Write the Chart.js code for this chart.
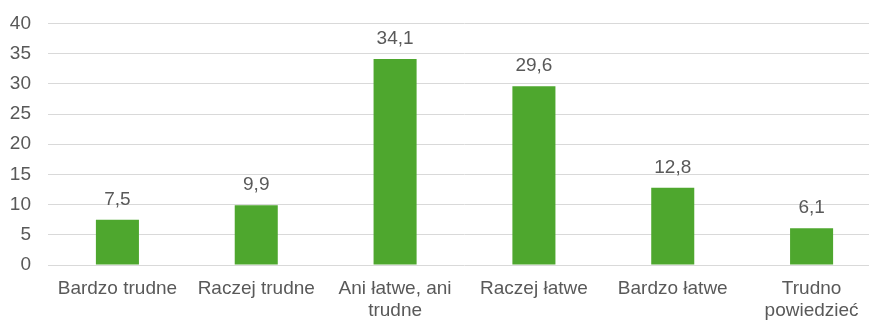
<!DOCTYPE html>
<html>
<head>
<meta charset="utf-8">
<script src="https://cdn.jsdelivr.net/npm/chart.js@4/dist/chart.umd.min.js"></script>
<style>
    html, body { margin: 0; padding: 0; background: #fff; overflow: hidden; }
    #wrap { position: relative; width: 881px; height: 325px; margin-top: -5px; }
</style>
</head>
<body>
<div id="wrap"><canvas id="chart"></canvas></div>
<script>
const categories = ['Bardzo trudne', 'Raczej trudne', ['Ani łatwe, ani', 'trudne'], 'Raczej łatwe', 'Bardzo łatwe', ['Trudno', 'powiedzieć']];
const values = [7.5, 9.9, 34.1, 29.6, 12.8, 6.1];
const yMin = 0;
const yMax = 40;
const yStep = 5;

const textColor = '#595959';
const fontFamily = '"Liberation Sans", Arial, sans-serif';

// draws value labels above bars (no datalabels plugin available)
const valueLabels = {
    id: 'valueLabels',
    afterDatasetsDraw(chart) {
        const ctx = chart.ctx;
        const meta = chart.getDatasetMeta(0);
        ctx.save();
        ctx.font = '19px ' + fontFamily;
        ctx.fillStyle = textColor;
        ctx.textAlign = 'center';
        ctx.textBaseline = 'middle';
        meta.data.forEach((bar, i) => {
            const txt = values[i].toFixed(1).replace('.', ',');
            ctx.fillText(txt, bar.x, bar.y - 20);
        });
        ctx.restore();
    }
};

new Chart(document.getElementById('chart').getContext('2d'), {
    type: 'bar',
    data: {
        labels: categories,
        datasets: [{
            data: values,
            backgroundColor: '#4ea72e',
            barPercentage: 0.31,
            categoryPercentage: 1.0
        }]
    },
    options: {
        responsive: true,
        maintainAspectRatio: false,
        animation: false,
        layout: { padding: { left: 0, right: 0, top: 6, bottom: 0 } },
        plugins: {
            legend: { display: false },
            tooltip: { enabled: false }
        },
        scales: {
            x: {
                grid: { display: false },
                border: { display: false },
                afterFit: (scale) => { scale.height = 55; },
                ticks: {
                    color: textColor,
                    font: { family: fontFamily, size: 19, lineHeight: 1.15 },
                    autoSkip: false,
                    maxRotation: 0,
                    padding: 5
                }
            },
            y: {
                min: yMin,
                max: yMax,
                afterFit: (scale) => { scale.width = 48; },
                grid: { color: '#d9d9d9', lineWidth: 1, drawTicks: false },
                border: { display: false },
                ticks: {
                    stepSize: yStep,
                    color: textColor,
                    font: { family: fontFamily, size: 19 },
                    padding: 17
                }
            }
        }
    },
    plugins: [valueLabels]
});
</script>
</body>
</html>
